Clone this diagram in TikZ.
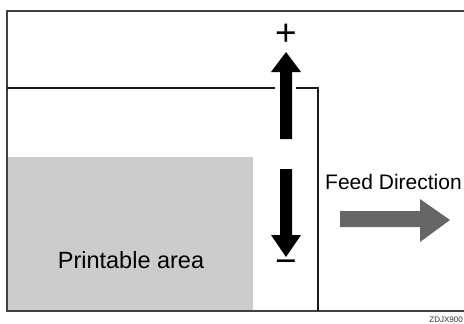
\documentclass[tikz,border=0pt]{standalone}
\usepackage{xcolor}
\usepackage{fontspec}
\setmainfont{Liberation Sans}
\usetikzlibrary{shapes,arrows,positioning}

\definecolor{areagray}{HTML}{CCCCCC}
\definecolor{feedgray}{HTML}{666666}

\begin{document}
\begin{tikzpicture}[x=1pt, y=-1pt,
    frameline/.style={draw=black!75, line width=1.2pt},
    sheetline/.style={draw=black!90, line width=1.2pt},
    sign/.style={inner sep=0pt, font=\fontsize{37}{37}\selectfont},
    label/.style={inner sep=0pt, font=\fontsize{21}{21}\selectfont}]
    \useasboundingbox (0,0) rectangle (464,324);

    % frame and sheet
    \draw[frameline] (464,11) -- (7,11) -- (7,311) -- (464,311);
    \fill[areagray] (8,157) rectangle (253,310);
    \draw[sheetline] (7,88) -- (275,88);
    \draw[sheetline] (296,88) -- (318,88) -- (318,311);

    % up and down arrows
    \fill[black] (280,139) -- (280,72) -- (271,72) -- (286,52) -- (301,72) -- (292,72) -- (292,139) -- cycle;
    \fill[black] (280,169) -- (280,235) -- (271,235) -- (286,257) -- (301,235) -- (292,235) -- (292,169) -- cycle;
    \node[sign] (plus) at (286,35) {+};
    \node[sign] (minus) at (286,267) {−};

    % feed direction
    \node[label, anchor=base west] (feed) at (325,189) {Feed Direction};
    \fill[feedgray] (340,211) -- (420,211) -- (420,199) -- (450,220) -- (420,242) -- (420,227) -- (340,227) -- cycle;

    \node[label, anchor=base, font=\fontsize{23.5}{23.5}\selectfont] (area) at (131,268) {Printable area};
    \node[inner sep=0pt, anchor=south east, font=\fontsize{8}{8}\selectfont, text=black!80] (code) at (463,323) {ZDJX900};
\end{tikzpicture}
\end{document}
